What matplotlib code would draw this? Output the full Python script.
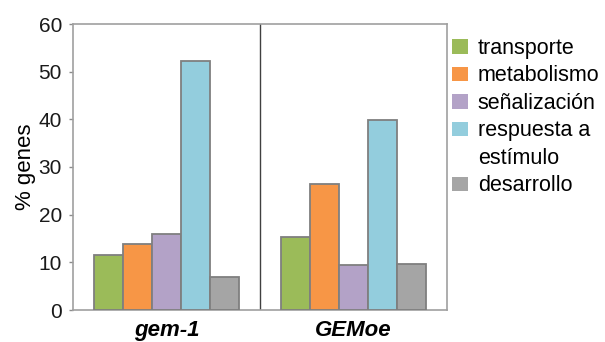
import matplotlib
matplotlib.use("Agg")
import matplotlib.pyplot as plt
from matplotlib.patches import Patch
import numpy as np

plt.rcParams['font.family'] = ['Liberation Sans', 'DejaVu Sans']

groups = ["gem-1", "GEMoe"]
categories = ["transporte", "metabolismo", "señalización", "respuesta a\nestímulo", "desarrollo"]
values = {
    "transporte":   [11.5, 15.3],
    "metabolismo":  [13.9, 26.5],
    "señalización": [15.9, 9.5],
    "respuesta a\nestímulo": [52.3, 39.8],
    "desarrollo":   [7.0, 9.6],
}
colors = ["#9BBB59", "#F79646", "#B3A2C7", "#93CDDD", "#A5A5A5"]
yticks = [0, 10, 20, 30, 40, 50, 60]

fig = plt.figure(figsize=(6.05, 3.42), dpi=100)
ax = fig.add_axes([73 / 605, 1 - 310 / 342, (447 - 73) / 605, (310 - 24) / 342])

centers = np.array([0.5, 1.5])
width = 0.155
offsets = (np.arange(len(categories)) - 2) * width
for cat, col, off in zip(categories, colors, offsets):
    ax.bar(centers + off, values[cat], width=width, color=col,
           edgecolor="#7F7F7F", linewidth=1.3, label=cat, zorder=3)

ax.axvline(1.0, color="#404040", linewidth=1.0, zorder=2)
ax.set_xlim(0, 2)
ax.set_ylim(0, 60)
ax.set_yticks(yticks)
ax.set_yticklabels([str(t) for t in yticks], fontsize=15, color="#1a1a1a")
ax.set_xticks(centers)
ax.set_xticklabels(groups, fontsize=16, fontweight="bold", fontstyle="italic")
ax.tick_params(axis="x", length=0, pad=7)
ax.tick_params(axis="y", length=3, width=1, color="#8C8C8C", pad=5)
for s in ax.spines.values():
    s.set_color("#A0A0A0")
    s.set_linewidth(1.2)
ax.set_ylabel("% genes", fontsize=16, labelpad=2)

# Legend: the colour square sits beside the first line of each label;
# continuation lines get an invisible handle so they wrap under the text.
handles, labels = [], []
for cat, col in zip(categories, colors):
    lines = cat.split("\n")
    handles.append(Patch(facecolor=col, edgecolor="none"))
    labels.append(lines[0])
    for extra in lines[1:]:
        handles.append(Patch(facecolor="none", edgecolor="none"))
        labels.append(extra)

fig.legend(handles, labels, loc="upper left", bbox_to_anchor=(452 / 605, 1 - 38 / 342),
           frameon=False, fontsize=15.5, handlelength=0.75, handleheight=0.65,
           handletextpad=0.45, labelspacing=0.3, borderaxespad=0, borderpad=0)

fig.savefig("out.png", dpi=100)
